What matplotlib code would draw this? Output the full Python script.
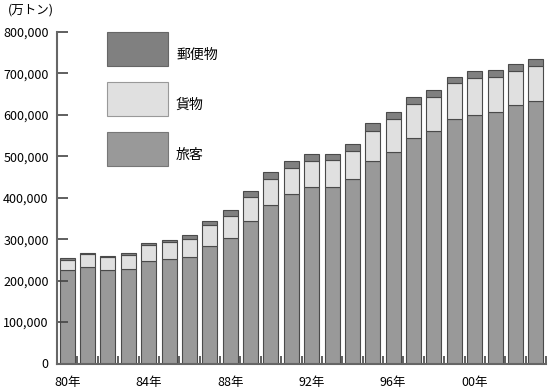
import numpy as np
import matplotlib
matplotlib.use('Agg')
import matplotlib.pyplot as plt
from matplotlib.patches import Patch
from matplotlib.ticker import FixedLocator, FuncFormatter

plt.rcParams['font.family'] = ['Noto Sans CJK JP', 'DejaVu Sans']

# data (万トン)
years = list(range(1980, 2004))
passenger = [225600, 232800, 225600, 228000, 247300, 251400, 256200, 282800,
             302000, 343000, 382400, 408200, 425100, 425100, 444400, 487800,
             509500, 544700, 560900, 589900, 598800, 606800, 622900, 633300]
freight = [24800, 30600, 31400, 34500, 38600, 41700, 44900, 50700,
           54500, 59300, 62000, 64200, 62700, 65100, 68300, 73800,
           79600, 82000, 82000, 86100, 90000, 83700, 82000, 83700]
mail = [3400, 2400, 3100, 3400, 4100, 4800, 8900, 10400,
        13000, 13800, 16900, 16200, 17600, 15900, 16900, 17900,
        16900, 16900, 16200, 16000, 16200, 17600, 16900, 16900]
year_labels = ['80年', '84年', '88年', '92年', '96年', '00年']

c_pass = '#999999'
c_freight = '#e0e0e0'
c_mail = '#808080'
edge = '#4a4a4a'

fig = plt.figure(figsize=(5.48, 3.92), dpi=100)
ax = fig.add_axes([57 / 548, 28.5 / 392, (546 - 57) / 548, (363.5 - 32) / 392])

x = np.arange(len(years))
p = np.array(passenger)
f = np.array(freight)
m = np.array(mail)
w = 0.735
ax.bar(x, p, w, color=c_pass, edgecolor=edge, linewidth=0.8)
ax.bar(x, f, w, bottom=p, color=c_freight, edgecolor=edge, linewidth=0.8)
ax.bar(x, m, w, bottom=p + f, color=c_mail, edgecolor=edge, linewidth=0.8)

ax.set_xlim(-0.5, len(years) - 0.5)
ax.set_ylim(0, 800000)

for s in ['top', 'right']:
    ax.spines[s].set_visible(False)
for s in ['left', 'bottom']:
    ax.spines[s].set_color('#666666')
    ax.spines[s].set_linewidth(1.5)

ax.set_yticks(np.arange(0, 800001, 100000))
ax.yaxis.set_major_formatter(FuncFormatter(lambda v, pos: '{:,}'.format(int(v))))
ax.tick_params(axis='y', direction='in', length=8, width=1.2, color='#444444',
               pad=6, labelsize=9)

ax.xaxis.set_major_locator(FixedLocator([0, 4, 8, 12, 16, 20]))
ax.set_xticklabels(year_labels)
ax.xaxis.set_minor_locator(FixedLocator(np.arange(0.5, len(years), 1.0)))
ax.tick_params(axis='x', which='major', length=0, pad=9, labelsize=9)
ax.tick_params(axis='x', which='minor', direction='in', length=6, width=1.2,
               color='#444444')

fig.text(8 / 548, 1 - 10 / 392, '(万トン)', fontsize=9, va='center', ha='left')

# legend: big boxes stacked, mail on top
handles = [Patch(facecolor=c_mail, edgecolor='#666666', linewidth=0.8, label='郵便物'),
           Patch(facecolor=c_freight, edgecolor='#999999', linewidth=0.8, label='貨物'),
           Patch(facecolor=c_pass, edgecolor='#777777', linewidth=0.8, label='旅客')]
leg = fig.legend(handles=handles, loc='upper left', bbox_to_anchor=(107 / 548, 1 - 32.3 / 392),
                 bbox_transform=fig.transFigure, frameon=False, fontsize=10,
                 handlelength=4.39, handleheight=3.39, labelspacing=1.15,
                 handletextpad=0.58, borderpad=0, borderaxespad=0)
for t in leg.get_texts():
    t.set_y(-6)

fig.savefig('out.png', dpi=100)
